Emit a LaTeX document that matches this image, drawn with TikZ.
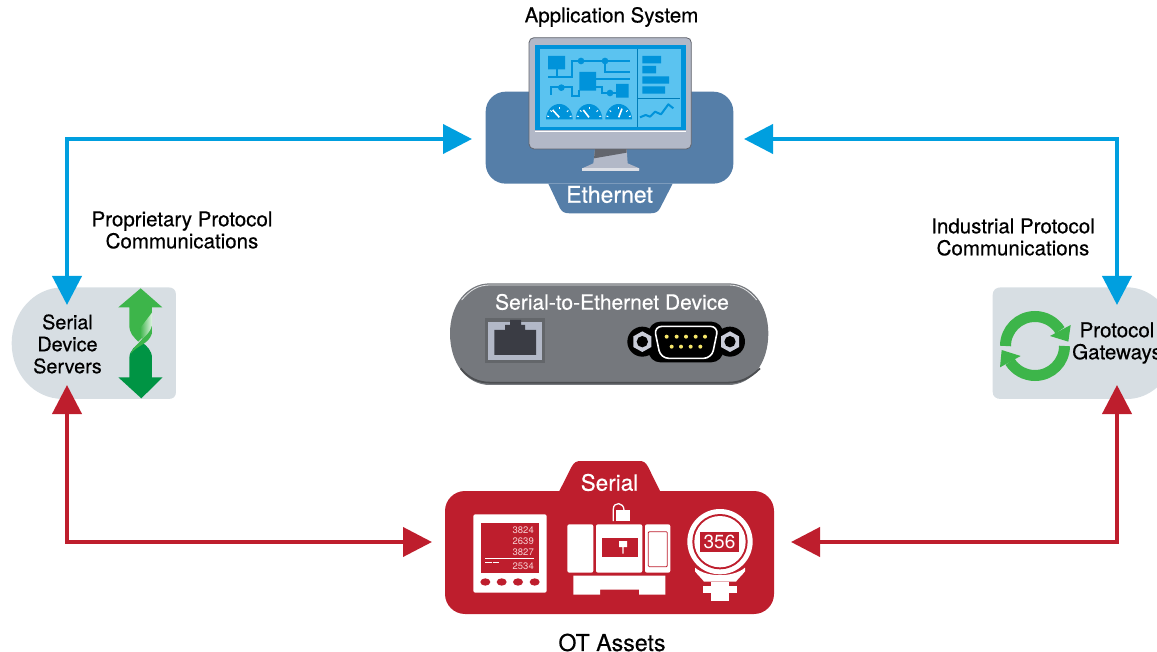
\documentclass[tikz,border=0pt]{standalone}
\usepackage{fontspec}
\setmainfont{TeX Gyre Heros}
\newfontfamily\medfont[FakeBold=0.45]{TeX Gyre Heros}
\usetikzlibrary{arrows.meta,calc}
\definecolor{ethblue}{HTML}{557EA8}
\definecolor{linkblue}{HTML}{009FDF}
\definecolor{scrdark}{HTML}{0093DA}
\definecolor{scrlight}{HTML}{5BC3F0}
\definecolor{monitor}{HTML}{B2B8C7}
\definecolor{otred}{HTML}{BE1E2D}
\definecolor{devgray}{HTML}{75787D}
\definecolor{panelgray}{HTML}{D7DEE3}
\definecolor{gleaf}{HTML}{3DB54A}
\definecolor{gdark}{HTML}{009444}
\definecolor{digit}{HTML}{F6CFD1}
\definecolor{portdark}{HTML}{3A3C44}
\definecolor{nutgray}{HTML}{C9CCD8}
\definecolor{pinyellow}{HTML}{F6E66A}
\tikzset{
  lbl/.style={font=\medfont\fontsize{20.5}{22}\selectfont,align=center,text=black,inner sep=0pt},
  whitelbl/.style={text=white,inner sep=0pt},
  bluelink/.style={draw=linkblue,line width=4pt,{Triangle[length=29pt,width=29pt]}-{Triangle[length=29pt,width=29pt]}},
  redlink/.style={draw=otred,line width=4pt,{Triangle[length=29pt,width=29pt]}-{Triangle[length=29pt,width=29pt]}},
  zm/.style={x=0.33333pt,y=-0.33333pt},
  digits/.style={text=digit,font=\fontsize{9.5}{10}\selectfont,inner sep=0pt,anchor=east},
}
\begin{document}
\begin{tikzpicture}[x=1pt,y=-1pt]
\useasboundingbox (0,0) rectangle (1157,652);
\clip (0,0) rectangle (1157,652);

% ===== Ethernet / Application system
\begin{scope}[shift={(480,0)},zm]
 \fill[ethblue] (205,551) -- (578,551) -- (540,625) .. controls (533,637) and (525,640) .. (510,640) -- (270,640) .. controls (255,640) and (247,637) .. (240,625) -- cycle;
 \fill[ethblue,rounded corners=20pt] (17,275) rectangle (760,551);
 % stand
 \fill[monitor] (345,447) -- (440,447) -- (443,490) -- (478,505) -- (478,512) -- (307,512) -- (307,505) -- (340,490) -- cycle;
 \fill[black!45!monitor] (345,447) -- (440,447) -- (440,458) -- (342,475) -- cycle;
 \fill[white!55!monitor] (307,504) rectangle (478,512);
 % frame
 \fill[monitor,draw=black!45!monitor,line width=.8pt,rounded corners=5pt] (147,113) rectangle (634,447);
 \fill[scrdark] (165,135) rectangle (618,390);
 \fill[scrlight] (180,148) rectangle (603,380);
 \draw[white,line width=.8pt] (165,394) -- (618,394);
 \draw[scrdark!85!black,line width=1.6pt] (473,148) -- (473,380);
 \draw[scrdark!85!black,line width=1.6pt] (473,296) -- (600,296);
 \fill[scrdark] (487,168) rectangle (543,190) (487,198) rectangle (528,220) (487,229) rectangle (567,251) (487,259) rectangle (555,281);
 \draw[scrdark,line width=2pt,line join=round] (480,352) -- (497,345) -- (510,350) -- (525,335) -- (543,343) -- (565,313) -- (580,325);
 \fill[scrdark] (204,168) rectangle (255,208) (298,216) rectangle (348,272) (408,252) rectangle (446,293);
 \draw[scrdark,line width=2.2pt] (230,208) -- (230,232) (204,232) -- (275,232) -- (275,183) -- (450,183) (375,183) -- (375,215) -- (450,215) (348,237) -- (450,237) (348,262) -- (365,262) -- (365,280) -- (410,280) (213,285) -- (213,262) -- (275,262) -- (275,287) -- (298,287) -- (298,270);
 \fill[scrdark] (303,183) circle[radius=10] (375,183) circle[radius=10] (244,263) circle[radius=10] (390,279) circle[radius=10];
 \foreach \cx/\nx/\ny in {238/218/330,327/310/330,416/426/326}{
   \fill[scrdark] (\cx-40,358) arc[start angle=180,end angle=360,x radius=40,y radius=46] -- cycle;
   \draw[white,line width=1.6pt] (\cx,352) -- (\nx,\ny);
   \foreach \a in {195,225,270,315,345}{
     \draw[white,line width=.9pt] ($(\cx,358)+(\a:32)$) -- ($(\cx,358)+(\a:38)$);
   }
 }
\end{scope}
\node[lbl] (appsys) at (611.5,17) {Application System};
\node[whitelbl,font=\medfont\fontsize{23}{24}\selectfont] (ethernet) at (609.5,194.5) {Ethernet};

% ===== Serial-to-Ethernet device
\begin{scope}[shift={(445,275)},zm]
 \fill[devgray] (135,25) -- (850,25) .. controls (920,25) and (970,90) .. (970,175) .. controls (970,265) and (920,330) .. (850,330) -- (135,330) .. controls (65,330) and (15,265) .. (15,175) .. controls (15,90) and (65,25) .. (135,25) -- cycle;
 \draw[white!80!devgray,line width=.8pt] (50,75) .. controls (75,45) and (100,30) .. (135,30) -- (850,30) .. controls (885,30) and (910,45) .. (935,75);
 \draw[black!35!devgray,line width=1.8pt] (47,280) .. controls (70,310) and (100,323) .. (135,323) -- (850,323) .. controls (885,323) and (915,310) .. (945,280);
 \fill[black!15!devgray] (120,130) rectangle (300,265);
 \fill[monitor] (130,140) rectangle (290,255);
 \fill[portdark] (148,240) -- (273,240) -- (273,165) -- (240,165) -- (240,150) -- (228,150) -- (228,135) -- (195,135) -- (195,150) -- (180,150) -- (180,165) -- (148,165) -- cycle;
 % DB9
 \fill[black] (592,200) circle[radius=45] (855,200) circle[radius=45];
 \fill[black,rounded corners=12pt] (610,140) rectangle (835,262);
 \fill[nutgray] (592,169) -- (619,184) -- (619,216) -- (592,231) -- (565,216) -- (565,184) -- cycle;
 \fill[nutgray] (855,169) -- (882,184) -- (882,216) -- (855,231) -- (828,216) -- (828,184) -- cycle;
 \fill[black] (592,200) circle[radius=17] (855,200) circle[radius=17];
 \fill[black,draw=white,line width=1.6pt,rounded corners=8pt] (627,154) -- (820,154) -- (800,250) -- (647,250) -- cycle;
 \foreach \dx in {665,695,723,752,780}{\fill[pinyellow] (\dx,185) circle[radius=6];}
 \foreach \dx in {680,708,737,766}{\fill[pinyellow] (\dx,215) circle[radius=6];}
\end{scope}
\node[whitelbl,font=\medfont\fontsize{21}{22}\selectfont] (s2e) at (612,302) {Serial-to-Ethernet Device};

% ===== Serial device servers
\begin{scope}[shift={(0,270)},zm]
 \fill[panelgray] (190,52) -- (505,52) .. controls (520,52) and (528,60) .. (528,75) -- (528,365) .. controls (528,380) and (520,387) .. (505,387) -- (190,387) .. controls (100,387) and (35,310) .. (35,220) .. controls (35,130) and (100,52) .. (190,52) -- cycle;
 % down arrow
 \fill[gdark] (424,385) -- (488,322) -- (456,322) -- (456,265) .. controls (456,240) and (440,228) .. (425,216) .. controls (408,226) and (388,240) .. (388,265) -- (388,322) -- (355,322) -- cycle;
 % ribbon
 \fill[gleaf] (392,252) .. controls (400,225) and (440,205) .. (456,165) -- (456,190) .. controls (445,225) and (410,225) .. (392,252) -- cycle;
 % up arrow
 \fill[gleaf] (422,55) -- (487,112) -- (456,112) -- (456,165) .. controls (450,190) and (425,200) .. (415,215) .. controls (400,200) and (388,190) .. (388,165) -- (388,112) -- (355,112) -- cycle;
 \shade[left color=gleaf,right color=white!85!gleaf] (420,175) -- (456,128) -- (456,165) .. controls (450,190) and (435,198) .. (425,208) -- cycle;
\end{scope}
\node[lbl,font=\medfont\fontsize{19.8}{22}\selectfont] (sds) at (67.5,344) {Serial\\Device\\Servers};

% ===== Protocol gateways
\begin{scope}[shift={(980,270)},zm]
 \fill[panelgray] (440,52) .. controls (500,52) and (540,90) .. (570,130) -- (570,310) .. controls (540,350) and (500,387) .. (440,387) -- (63,387) .. controls (48,387) and (38,380) .. (38,365) -- (38,75) .. controls (38,60) and (48,52) .. (63,52) -- cycle;
 \draw[gleaf,line width=11pt] (165,228) ++(180:88.5) arc[start angle=180,end angle=328,radius=88.5];
 \fill[gleaf] (272,165) -- (265,215) -- (210,198) -- cycle;
 \draw[gleaf,line width=11pt] (165,228) ++(0:88.5) arc[start angle=0,end angle=148,radius=88.5];
 \fill[gleaf] (60,292) -- (65,240) -- (122,258) -- cycle;
\end{scope}
\node[lbl] (pgw) at (1117,343) {Protocol\\Gateways};

% ===== OT assets
\begin{scope}[shift={(440,455)},zm]
 \fill[otred] (358,108) -- (395,35) .. controls (402,22) and (410,18) .. (422,18) -- (598,18) .. controls (610,18) and (617,22) .. (624,35) -- (660,108) -- cycle;
 \fill[otred,rounded corners=20pt] (15,108) rectangle (1002,477);
 % meter
 \fill[white,rounded corners=2pt] (100,178) rectangle (320,413);
 \fill[otred] (123,204) rectangle (297,353);
 \draw[white,line width=.7pt] (135,310) -- (283,310);
 \draw[white,line width=.9pt] (135,323) -- (155,323) (158,323) -- (177,323);
 \foreach \ex in {136,185,234,284}{\fill[otred] (\ex,381) ellipse[x radius=15,y radius=11];}
 % machine
 \fill[white,rounded corners=2pt] (382,208) rectangle (460,353) (468,208) rectangle (607,353) (615,208) rectangle (691,353);
 \draw[otred,line width=.8pt,rounded corners=1pt] (625,230) rectangle (682,335);
 \fill[otred] (485,250) rectangle (594,305);
 \fill[white] (537,258) rectangle (561,276) (547,276) rectangle (551,296);
 \fill[white] (400,362) -- (676,362) -- (676,419) -- (597,419) -- (597,404) -- (480,404) -- (480,419) -- (400,419) -- cycle;
 \fill[white] (527,166) rectangle (570,198);
 \draw[white,line width=1.3pt] (520,198) -- (520,162) .. controls (520,140) and (552,140) .. (552,166);
 % gauge
 \fill[white] (840,260) circle[radius=98];
 \fill[otred] (840,260) circle[radius=83];
 \fill[white] (840,260) circle[radius=77];
 \fill[otred] (780,232) rectangle (898,290);
 \fill[white] (765,338) .. controls (800,368) and (880,368) .. (915,338) -- (915,349) .. controls (905,362) and (895,370) .. (888,380) -- (792,380) .. controls (785,370) and (775,362) .. (765,349) -- cycle;
 \fill[white] (812,380) rectangle (868,437);
 \fill[white] (790,393) rectangle (890,413);
\end{scope}
\node[digits] (d1) at (534,530) {3824};
\node[digits] (d2) at (534,541) {2639};
\node[digits] (d3) at (534,552) {3827};
\node[digits] (d4) at (534,566) {2534};
\node[text=white,font=\fontsize{19}{22}\selectfont,inner sep=0pt] (g356) at (719.5,541.5) {356};
\node[whitelbl,font=\medfont\fontsize{22.5}{24}\selectfont] (serial) at (609.5,482.5) {Serial};
\node[lbl,font=\medfont\fontsize{23.2}{24}\selectfont] (ot) at (612,642.5) {OT Assets};

% ===== text labels
\node[lbl] (prop) at (182,230) {Proprietary Protocol\\Communications};
\node[lbl] (ind) at (1013,237) {Industrial Protocol\\Communications};

% ===== connectors
\coordinate (sdsTop) at (67,305);
\coordinate (sdsBot) at (67,385);
\coordinate (ethL) at (472,139);
\coordinate (ethR) at (744,139);
\coordinate (pgwTop) at (1117,305);
\coordinate (pgwBot) at (1117,385);
\coordinate (otL) at (432,542);
\coordinate (otR) at (791,542);
\draw[bluelink] (sdsTop) |- (ethL);
\draw[bluelink] (pgwTop) |- (ethR);
\draw[redlink] (sdsBot) |- (otL);
\draw[redlink] (pgwBot) |- (otR);
\end{tikzpicture}
\end{document}
